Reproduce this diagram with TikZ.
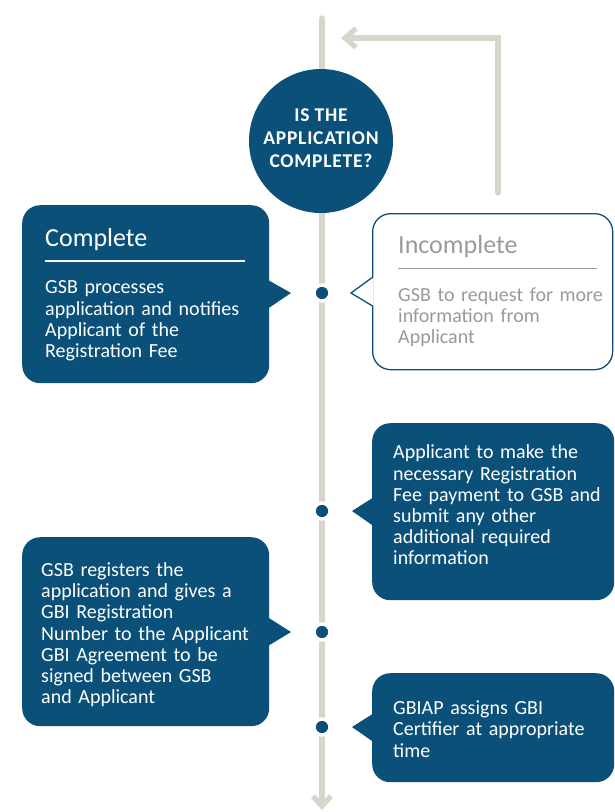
\documentclass[tikz,border=0pt]{standalone}
\usepackage{fontspec}
\setmainfont{Carlito}
\usetikzlibrary{arrows.meta}
\definecolor{gsbblue}{HTML}{0B5079}
\definecolor{track}{HTML}{D8D5CC}
\definecolor{ghost}{HTML}{9A9A9A}
\tikzset{
  rail/.style={draw=track, line width=5.3pt},
  bubble/.style={fill=gsbblue, rounded corners=18pt, inner sep=0pt, anchor=north west},
  hollow/.style={draw=gsbblue, line width=1.3pt, fill=white, rounded corners=18pt, inner sep=0pt, anchor=north west},
  dot/.style={circle, fill=gsbblue, draw=white, line width=3.4pt, minimum size=16pt, inner sep=0pt},
  body/.style={anchor=west, align=left, inner sep=0pt, text width=232pt, font=\fontsize{20}{21.2}\selectfont},
  head/.style={anchor=base west, inner sep=0pt, font=\fontsize{26}{26}\selectfont},
}
\begin{document}
\begin{tikzpicture}[x=1pt,y=-1pt]
  \useasboundingbox (0,0) rectangle (614,812);

  % the main track and the way back
  \coordinate (top) at (322,18);
  \coordinate (bottom) at (322,810);
  \coordinate (back) at (498,193);
  \coordinate (bend) at (498,38);
  \coordinate (entry) at (341,38);
  \draw[rail, line cap=round, -{Straight Barb[length=10pt,width=18pt]}] (top) -- (bottom);
  \draw[rail, line cap=round, -{Straight Barb[length=11pt,width=19pt]}] (back) -- (bend) -- (entry);

  % question
  \node[circle, fill=gsbblue, minimum size=144pt, inner sep=0pt] (q) at (321,141) {};
  \node[text=white, align=center, inner sep=0pt,
        font=\fontsize{19.5}{23}\selectfont\bfseries\addfontfeature{LetterSpace=4}] (qtext) at (321,138.2)
        {IS THE\\APPLICATION\\COMPLETE?};

  % dots on the track
  \node[dot] (d1) at (322,293) {};
  \node[dot] (d2) at (322,511) {};
  \node[dot] (d3) at (322,632) {};
  \node[dot] (d4) at (322,727) {};

  % complete
  \node[bubble, minimum width=247pt, minimum height=178pt] (cbox) at (22,205) {};
  \fill[gsbblue] ([xshift=-1pt,yshift=14pt]cbox.east) -- ([xshift=-31pt]d1.center) -- ([xshift=-1pt,yshift=-14pt]cbox.east) -- cycle;
  \node[head, text=white] (ctitle) at (45,246) {Complete};
  \draw[white, line width=1.3pt] (45,261) -- (245,261);
  \node[body, text=white] (ctext) at (45,321)
    {GSB processes\\application and notifies\\Applicant of the\\Registration Fee};

  % incomplete
  \node[hollow, minimum width=240pt, minimum height=156pt] (ibox) at (372,213) {};
  \fill[white] ([xshift=1.5pt,yshift=14pt]ibox.west) -- ([xshift=29pt]d1.center) -- ([xshift=1.5pt,yshift=-14pt]ibox.west) -- cycle;
  \draw[gsbblue, line width=1.3pt] ([yshift=14pt]ibox.west) -- ([xshift=29pt]d1.center) -- ([yshift=-14pt]ibox.west);
  \node[head, text=ghost] (ititle) at (398,253.3) {Incomplete};
  \draw[ghost, line width=1.2pt] (398,268.3) -- (597,268.3);
  \node[body, text=ghost] (itext) at (398,317.5)
    {GSB to request for more\\information from\\Applicant};

  % fee payment
  \node[bubble, minimum width=242pt, minimum height=177pt] (fbox) at (372,423) {};
  \fill[gsbblue] ([xshift=1pt,yshift=14pt]fbox.west) -- ([xshift=30pt]d2.center) -- ([xshift=1pt,yshift=-14pt]fbox.west) -- cycle;
  \node[body, text=white] (ftext) at (393,505)
    {Applicant to make the\\necessary Registration\\Fee payment to GSB and\\submit any other\\additional required\\information};

  % registration
  \node[bubble, minimum width=247pt, minimum height=189pt] (rbox) at (22,537) {};
  \fill[gsbblue] ([xshift=-1pt,yshift=14pt]rbox.east) -- ([xshift=-31pt]d3.center) -- ([xshift=-1pt,yshift=-14pt]rbox.east) -- cycle;
  \node[body, text=white] (rtext) at (41,634.7)
    {GSB registers the\\application and gives a\\GBI Registration\\Number to the Applicant\\GBI Agreement to be\\signed between GSB\\and Applicant};

  % certifier
  \node[bubble, minimum width=242pt, minimum height=109pt] (gbox) at (372,673) {};
  \fill[gsbblue] ([xshift=1pt,yshift=14pt]gbox.west) -- ([xshift=30pt]d4.center) -- ([xshift=1pt,yshift=-14pt]gbox.west) -- cycle;
  \node[body, text=white] (gtext) at (393,729)
    {GBIAP assigns GBI\\Certifier at appropriate\\time};
\end{tikzpicture}
\end{document}
